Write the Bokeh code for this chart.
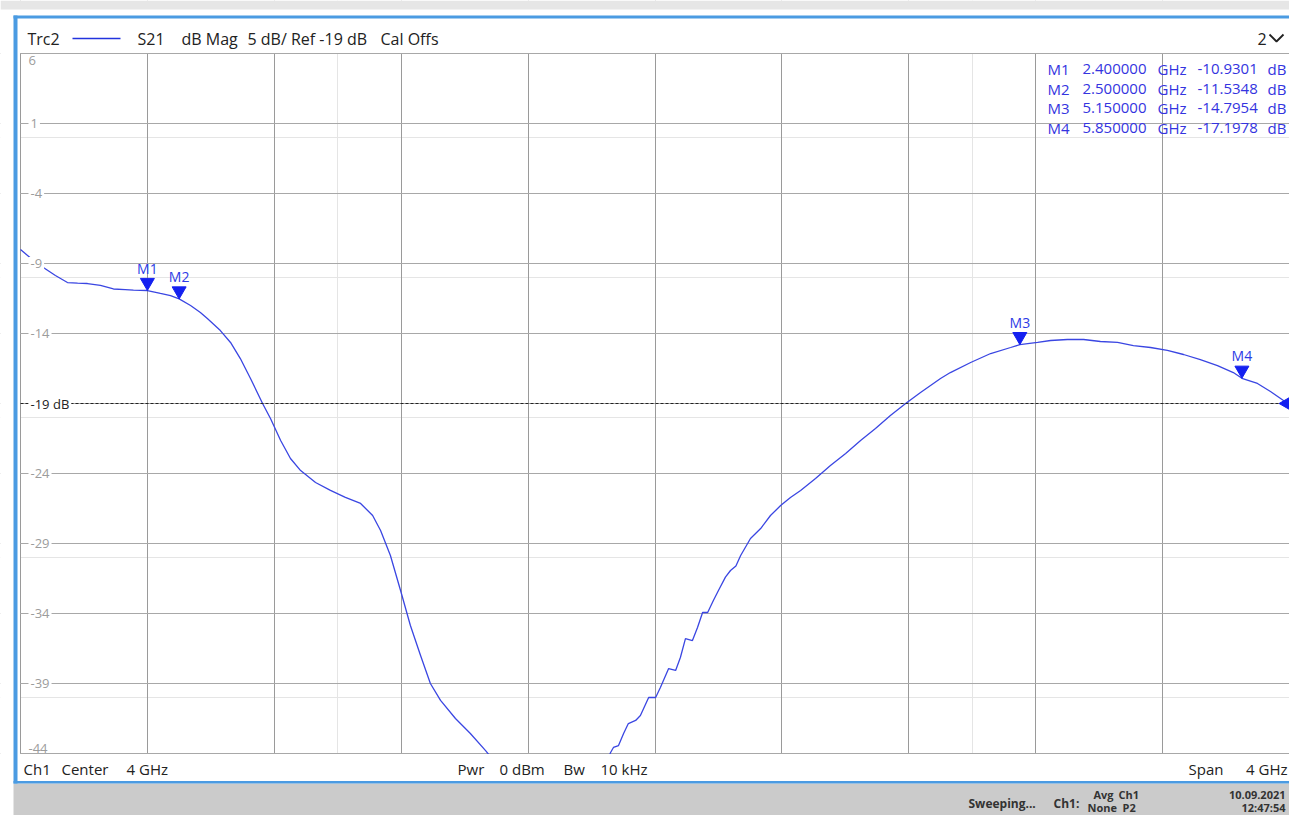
import numpy as np
from bokeh.plotting import figure
from bokeh.models import Range1d, Grid, FixedTicker, BoxAnnotation
from bokeh.core.properties import value
from bokeh.embed import file_html
from bokeh.resources import INLINE

# ---------------- data ----------------
freq_ghz = [2.000, 2.041, 2.072, 2.110, 2.148, 2.180, 2.211, 2.252, 2.293, 2.330,
            2.356, 2.400, 2.441, 2.473, 2.500, 2.536, 2.567, 2.589, 2.630, 2.662,
            2.693, 2.725, 2.763, 2.788, 2.820, 2.851, 2.883, 2.930, 2.977, 3.024,
            3.072, 3.110, 3.135, 3.166, 3.198, 3.229, 3.261, 3.292, 3.324, 3.371,
            3.418, 3.466, 3.520, 3.600, 3.700, 3.780, 3.830, 3.860, 3.869, 3.885,
            3.901, 3.916, 3.939, 3.954, 3.980, 4.002, 4.017, 4.043, 4.065, 4.080,
            4.096, 4.118, 4.134, 4.150, 4.166, 4.184, 4.200, 4.222, 4.238, 4.255,
            4.270, 4.301, 4.333, 4.364, 4.396, 4.427, 4.459, 4.506, 4.553, 4.601,
            4.648, 4.695, 4.742, 4.790, 4.837, 4.900, 4.931, 4.995, 5.058, 5.121,
            5.150, 5.206, 5.247, 5.300, 5.351, 5.404, 5.458, 5.508, 5.562, 5.615,
            5.666, 5.719, 5.773, 5.823, 5.850, 5.899, 5.940, 5.981, 6.000]
s21_db = [-8.00, -8.79, -9.29, -9.86, -10.36, -10.40, -10.43, -10.57, -10.82, -10.86,
          -10.90, -10.93, -11.14, -11.29, -11.53, -12.00, -12.50, -12.93, -13.79, -14.64,
          -15.79, -17.21, -19.00, -20.07, -21.64, -22.93, -23.79, -24.64, -25.21, -25.71,
          -26.14, -27.00, -28.07, -29.86, -32.36, -34.86, -37.00, -39.00, -40.21, -41.50,
          -42.57, -43.79, -45.30, -47.60, -49.50, -48.00, -45.60, -43.93, -43.57, -43.43,
          -42.57, -41.86, -41.64, -41.29, -40.00, -40.00, -39.29, -37.93, -38.07, -37.14,
          -35.79, -35.93, -35.00, -33.93, -33.93, -33.07, -32.36, -31.40, -30.93, -30.60,
          -29.86, -28.64, -27.93, -27.00, -26.29, -25.71, -25.21, -24.36, -23.43, -22.57,
          -21.64, -20.79, -19.86, -19.00, -18.21, -17.21, -16.79, -16.07, -15.43, -15.00,
          -14.80, -14.64, -14.50, -14.43, -14.43, -14.57, -14.64, -14.86, -15.00, -15.21,
          -15.50, -15.86, -16.29, -16.79, -17.20, -17.57, -18.14, -18.79, -19.05]

marker_names = ["M1", "M2", "M3", "M4"]
marker_freq = [2.40, 2.50, 5.15, 5.85]
marker_db = [-10.9301, -11.5348, -14.7954, -17.1978]
marker_freq_txt = ["2.400000", "2.500000", "5.150000", "5.850000"]
marker_db_txt = ["-10.9301", "-11.5348", "-14.7954", "-17.1978"]

x_grid = [2.0, 2.4, 2.8, 3.2, 3.6, 4.0, 4.4, 4.8, 5.2, 5.6, 6.0]
y_grid = [6, 1, -4, -9, -14, -19, -24, -29, -34, -39, -44]
y_mid_vals = [1, -4, -9, -14, -24, -29, -34, -39]
y_mid_labels = ["1", "-4", "-9", "-14", "-24", "-29", "-34", "-39"]
ref_level = -19
ref_label = "-19 dB"

header_texts = ["Trc2", "S21", "dB Mag", "5 dB/ Ref -19 dB", "Cal Offs"]
footer_texts = ["Ch1", "Center", "4 GHz", "Pwr", "0 dBm", "Bw", "10 kHz", "Span"]

# ---------------- geometry (canvas pixels -> data) ----------------
PX_PER_GHZ = 1269 / 4.0
PX_PER_DB = 14.0


def X(px):
    return 2.0 + (px - 20) / PX_PER_GHZ


def Y(py):
    return 6.0 - (py - 53) / PX_PER_DB


W, H = 1289, 815
x0, x1 = X(0), X(W)
y0, y1 = Y(H), Y(0)

FONT = value("Open Sans")
BLUE_TXT = "#3434e0"
DARK = "#222222"

p = figure(width=W, height=H, x_range=Range1d(x0, x1), y_range=Range1d(y0, y1),
           toolbar_location=None, output_backend="svg", min_border=0,
           x_axis_location=None, y_axis_location=None)
p.outline_line_color = None
p.background_fill_color = "white"
p.border_fill_color = "white"

p.add_layout(Grid(dimension=0, ticker=FixedTicker(ticks=x_grid),
                  grid_line_color="#9a9a9a", grid_line_width=1))
p.add_layout(Grid(dimension=1, ticker=FixedTicker(ticks=y_grid),
                  grid_line_color="#a8a8a8", grid_line_width=1))

# trace
p.line(freq_ghz, s21_db, line_color="#3a46e2", line_width=1.3)

# reference line
p.segment(x0=[2.0], y0=[ref_level], x1=[6.0], y1=[ref_level],
          line_color=DARK, line_width=1, line_dash="3 2")

# tick labels
p.text(x=[2.0] * len(y_mid_vals), y=y_mid_vals, text=y_mid_labels, x_offset=8,
       text_font=FONT, text_font_size="13px", text_color="#9c9c9c",
       text_baseline="middle", background_fill_color="white", padding=2)
p.text(x=[2.0], y=[y_grid[0]], text=[str(y_grid[0])], x_offset=8, y_offset=2,
       text_font=FONT, text_font_size="13px", text_color="#9c9c9c", text_baseline="top")
p.text(x=[2.0], y=[y_grid[-1]], text=[str(y_grid[-1])], x_offset=8, y_offset=-1,
       text_font=FONT, text_font_size="13px", text_color="#9c9c9c", text_baseline="bottom")
p.text(x=[2.0], y=[ref_level], text=[ref_label], x_offset=8,
       text_font=FONT, text_font_size="13px", text_color=DARK,
       text_baseline="middle", background_fill_color="white", padding=2)

# markers
TRI = 14
tri_off = (TRI / 2) * np.sqrt(3) * 2 / 3 / PX_PER_DB
p.scatter(marker_freq, [d + tri_off for d in marker_db], marker="inverted_triangle",
          size=TRI, fill_color="#1420f0", line_color="#1420f0")
p.text(marker_freq, marker_db, text=marker_names, text_align="center",
       text_baseline="bottom", y_offset=-13, text_font=FONT, text_font_size="14px",
       text_color="#2d3be6")
p.scatter([6.0], [ref_level], marker="triangle", angle=np.pi / 2, size=18,
          fill_color="#1420f0", line_color="#1420f0")

# ---------------- covers & frame decorations ----------------
WHITE = dict(fill_color="white", fill_alpha=1.0, line_color=None)
p.add_layout(BoxAnnotation(left=x0, right=x1, bottom=Y(52.4), top=y1, **WHITE))
p.add_layout(BoxAnnotation(left=x0, right=x1, bottom=y0, top=Y(753.6), **WHITE))
p.add_layout(BoxAnnotation(left=x0, right=X(19.5), bottom=Y(753.6), top=Y(52.4), **WHITE))

p.add_layout(BoxAnnotation(left=x0, right=x1, bottom=Y(9), top=y1,
                           fill_color="#e6e6e6", fill_alpha=1.0, line_color=None))
p.add_layout(BoxAnnotation(left=X(13), right=x1, bottom=y0, top=Y(783),
                           fill_color="#cbcbcb", fill_alpha=1.0, line_color=None))
p.add_layout(BoxAnnotation(left=X(13), right=X(17), bottom=Y(783), top=Y(15),
                           fill_color="#4b9be2", fill_alpha=1.0, line_color=None))
p.add_layout(BoxAnnotation(left=X(13), right=x1, bottom=Y(18), top=Y(15),
                           fill_color="#4b9be2", fill_alpha=1.0, line_color=None))
p.add_layout(BoxAnnotation(left=X(13), right=x1, bottom=Y(783), top=Y(780.5),
                           fill_color="#4b9be2", fill_alpha=1.0, line_color=None))

# ---------------- header ----------------
head_x = [27, 137, 181, 247, 380]
p.text(x=[X(v) for v in head_x], y=[Y(38)] * len(header_texts), text=header_texts,
       text_font=FONT, text_font_size="16px", text_color=DARK,
       text_baseline="middle", level="overlay")
p.line([X(72), X(120)], [Y(38), Y(38)], line_color="#2233dd", line_width=1.5, level="overlay")
p.text(x=[X(1257)], y=[Y(38)], text=["2"], text_font=FONT, text_font_size="16px",
       text_color=DARK, text_baseline="middle", level="overlay")
p.line([X(1269), X(1276), X(1283)], [Y(34), Y(41), Y(34)], line_color=DARK,
       line_width=1.8, level="overlay")

# marker table
rows_y = [Y(v) for v in [68, 88, 107, 127]]
for col_x, col_txt in [(1047, marker_names), (1082, marker_freq_txt),
                       (1157, ["GHz"] * 4), (1197, marker_db_txt), (1267, ["dB"] * 4)]:
    p.text(x=[X(col_x)] * 4, y=rows_y, text=col_txt, text_font=FONT,
           text_font_size="15px", text_color=BLUE_TXT, text_baseline="middle",
           level="overlay")

# ---------------- footer ----------------
foot_x = [23, 61, 126, 457, 499, 563, 600, 1188]
p.text(x=[X(v) for v in foot_x], y=[Y(768)] * len(footer_texts), text=footer_texts,
       text_font=FONT, text_font_size="15px", text_color=DARK,
       text_baseline="middle", level="overlay")
p.text(x=[X(1287)], y=[Y(768)], text=["4 GHz"], text_font=FONT, text_font_size="15px",
       text_color=DARK, text_baseline="middle", text_align="right", level="overlay")

# status bar
p.text(x=[X(968), X(1053)], y=[Y(803)] * 2, text=["Sweeping...", "Ch1:"],
       text_font=FONT, text_font_size="12px", text_font_style="bold",
       text_color="#333333", text_baseline="middle", level="overlay")
p.text(x=[X(1093), X(1118)], y=[Y(794)] * 2, text=["Avg", "Ch1"],
       text_font=FONT, text_font_size="11px", text_font_style="bold",
       text_color="#333333", text_baseline="middle", level="overlay")
p.text(x=[X(1087), X(1122)], y=[Y(807)] * 2, text=["None", "P2"],
       text_font=FONT, text_font_size="11px", text_font_style="bold",
       text_color="#333333", text_baseline="middle", level="overlay")
p.text(x=[X(1285)] * 2, y=[Y(794), Y(807)], text=["10.09.2021", "12:47:54"],
       text_font=FONT, text_font_size="11px", text_font_style="bold",
       text_color="#333333", text_baseline="middle", text_align="right", level="overlay")

open("out.html", "w").write(file_html(p, INLINE))
